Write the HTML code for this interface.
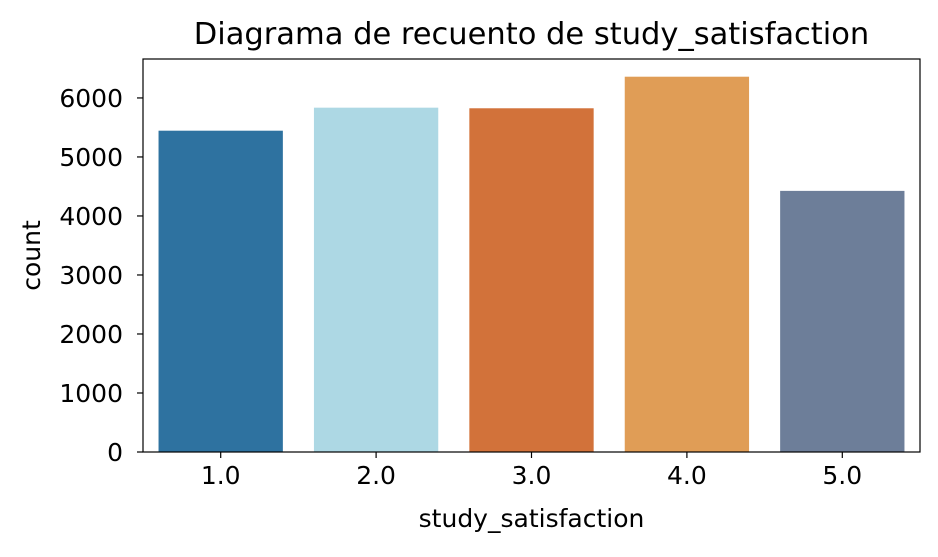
<!DOCTYPE html>
<html><head><meta charset="utf-8"><style>
body{margin:0;background:#fff;}
svg text{font-family:"DejaVu Sans","Liberation Sans",sans-serif;fill:#000;}
</style></head><body>
<svg id="chart" width="938" height="552" xmlns="http://www.w3.org/2000/svg"></svg>
<script>
const categories = ["1.0","2.0","3.0","4.0","5.0"];
const counts = [5445, 5835, 5825, 6360, 4425];
const colors = ["#2e72a0","#add8e4","#d2723a","#e09d56","#6d7e99"];
const yTicks = [0,1000,2000,3000,4000,5000,6000];

const L=143,R=920,T=59,B=452;
const yMax=6660;
const y=v=>B-(v/yMax)*(B-T);
const band=(R-L)/categories.length;
const x=i=>L+band*i+band*0.1;
const svg=document.getElementById('chart');
const NS='http://www.w3.org/2000/svg';
function mk(tag,attrs,text){const e=document.createElementNS(NS,tag);for(const k in attrs)e.setAttribute(k,attrs[k]);if(text!==undefined)e.textContent=text;svg.appendChild(e);return e;}

counts.forEach((v,i)=>{
  const r=mk('rect',{x:x(i),y:y(v),width:band*0.8,height:B-y(v),fill:colors[i]});
  
  
});
const frame=mk('rect',{x:L,y:T,width:R-L,height:B-T,fill:'none',stroke:'#000','stroke-width':1.2});



yTicks.forEach(t=>{
  const tk=mk('line',{x1:L-6,x2:L,y1:y(t),y2:y(t),stroke:'#000','stroke-width':1.2});
  
  
  const lb=mk('text',{x:L-20,y:y(t)+9,'text-anchor':'end','font-size':25},String(t));
  
  
});
categories.forEach((c,i)=>{
  const cx=L+band*(i+0.5);
  const tk=mk('line',{x1:cx,x2:cx,y1:B,y2:B+6,stroke:'#000','stroke-width':1.2});
  
  
  const lb=mk('text',{x:cx,y:B+32,'text-anchor':'middle','font-size':25},c);
  
  
});
const xt=mk('text',{x:(L+R)/2,y:527,'text-anchor':'middle','font-size':25},'study_satisfaction');


const yt=mk('text',{x:0,y:0,'text-anchor':'middle','font-size':25,transform:'translate(40,'+((T+B)/2)+') rotate(-90)'},'count');


const tt=mk('text',{x:(L+R)/2,y:44,'text-anchor':'middle','font-size':30.5},'Diagrama de recuento de study_satisfaction');


</script>
</body></html>
